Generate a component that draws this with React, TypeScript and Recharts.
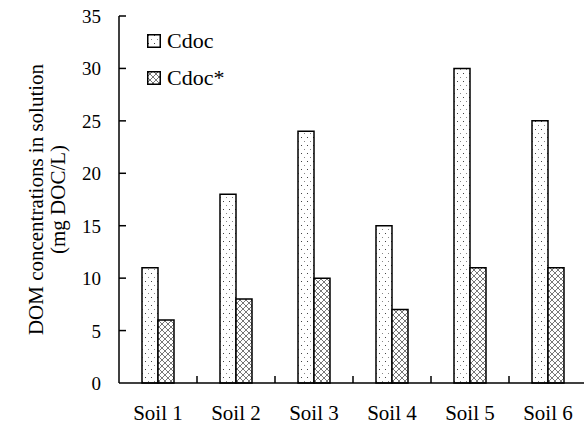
import { BarChart, Bar, XAxis, YAxis } from "recharts";

const soils = ["Soil 1", "Soil 2", "Soil 3", "Soil 4", "Soil 5", "Soil 6"];
const cdoc = [11, 18, 24, 15, 30, 25];
const cdocStar = [6, 8, 10, 7, 11, 11];
const yTicks = [0, 5, 10, 15, 20, 25, 30, 35];

const data = soils.map((soil, i) => ({ soil, cdoc: cdoc[i], cdocStar: cdocStar[i] }));

const FONT = '"Liberation Serif", "Times New Roman", Times, serif';
const AXIS_X = 119;
const PLOT_W = 468;
const HALF_BAND = PLOT_W / soils.length / 2;

const series = [
  { key: "cdoc", name: "Cdoc", fill: "url(#dots)" },
  { key: "cdocStar", name: "Cdoc*", fill: "url(#hatch)" },
];

// x ticks: label under the category, small inward tick at the category boundary
function SoilTick(props: any) {
  const { x, y, payload, index } = props;
  const axisY = y - 8;
  return (
    <g>
      {index < soils.length - 1 && (
        <line x1={x + HALF_BAND} x2={x + HALF_BAND} y1={axisY} y2={axisY - 7} stroke="#000" strokeWidth={1.5} />
      )}
      <text x={x} y={axisY + 37} textAnchor="middle" style={{ fontFamily: FONT, fontSize: 21 }} fill="#000">
        {payload.value}
      </text>
    </g>
  );
}

// y ticks point into the plot
function ValueTick(props: any) {
  const { y, payload } = props;
  return (
    <g>
      {payload.value !== 0 && (
        <line x1={AXIS_X} x2={AXIS_X + 7} y1={y} y2={y} stroke="#000" strokeWidth={1.5} />
      )}
      <text x={AXIS_X - 18} y={y + 7} textAnchor="end" style={{ fontFamily: FONT, fontSize: 19 }} fill="#000">
        {payload.value}
      </text>
    </g>
  );
}

function YTitle(props: any) {
  const { viewBox } = props;
  const cy = viewBox.y + viewBox.height / 2;
  return (
    <g style={{ fontFamily: FONT, fontSize: 21 }} fill="#000" textAnchor="middle">
      <text transform={`translate(36, ${cy}) rotate(-90)`} dy={7}>DOM concentrations in solution</text>
      <text transform={`translate(58, ${cy}) rotate(-90)`} dy={7}>(mg DOC/L)</text>
    </g>
  );
}

function LegendBox() {
  return (
    <div style={{ position: "absolute", left: 147, top: 22, fontFamily: FONT, fontSize: 22, color: "#000" }}>
      {series.map((s) => (
        <div key={s.key} style={{ display: "flex", alignItems: "center", height: 37 }}>
          <svg width={14} height={14} style={{ marginRight: 6 }}>
            <rect x={0.75} y={0.75} width={12.5} height={12.5} fill={s.fill} stroke="#000" strokeWidth={1.5} />
          </svg>
          <span>{s.name}</span>
        </div>
      ))}
    </div>
  );
}

export default function App() {
  return (
    <div style={{ position: "absolute", left: 0, top: 0, width: 584, height: 427, overflow: "hidden", background: "#fff" }}>
      <BarChart
        width={AXIS_X + PLOT_W}
        height={427}
        data={data}
        margin={{ top: 16, right: 0, bottom: 4, left: 0 }}
        barSize={16}
        barGap={0}
      >
        <defs>
          <pattern id="dots" width={6} height={8} patternUnits="userSpaceOnUse">
            <rect width={6} height={8} fill="#fff" />
            <rect x={1} y={1} width={1} height={1} fill="#444" />
            <rect x={4} y={5} width={1} height={1} fill="#888" />
          </pattern>
          <pattern id="hatch" width={6} height={6} patternUnits="userSpaceOnUse">
            <rect width={6} height={6} fill="#fff" />
            <path d="M0,0 L6,6 M6,0 L0,6" stroke="#777" strokeWidth={1} />
          </pattern>
        </defs>
        <XAxis
          dataKey="soil"
          height={40}
          tickLine={false}
          axisLine={{ stroke: "#000", strokeWidth: 1.5 }}
          tick={<SoilTick />}
          interval={0}
        />
        <YAxis
          width={AXIS_X}
          domain={[0, 35]}
          ticks={yTicks}
          tickLine={false}
          axisLine={{ stroke: "#000", strokeWidth: 1.5 }}
          tick={<ValueTick />}
          label={<YTitle />}
        />
        {series.map((s) => (
          <Bar
            key={s.key}
            dataKey={s.key}
            name={s.name}
            fill={s.fill}
            stroke="#000"
            strokeWidth={1.5}
            isAnimationActive={false}
          />
        ))}
      </BarChart>
      <LegendBox />
    </div>
  );
}
